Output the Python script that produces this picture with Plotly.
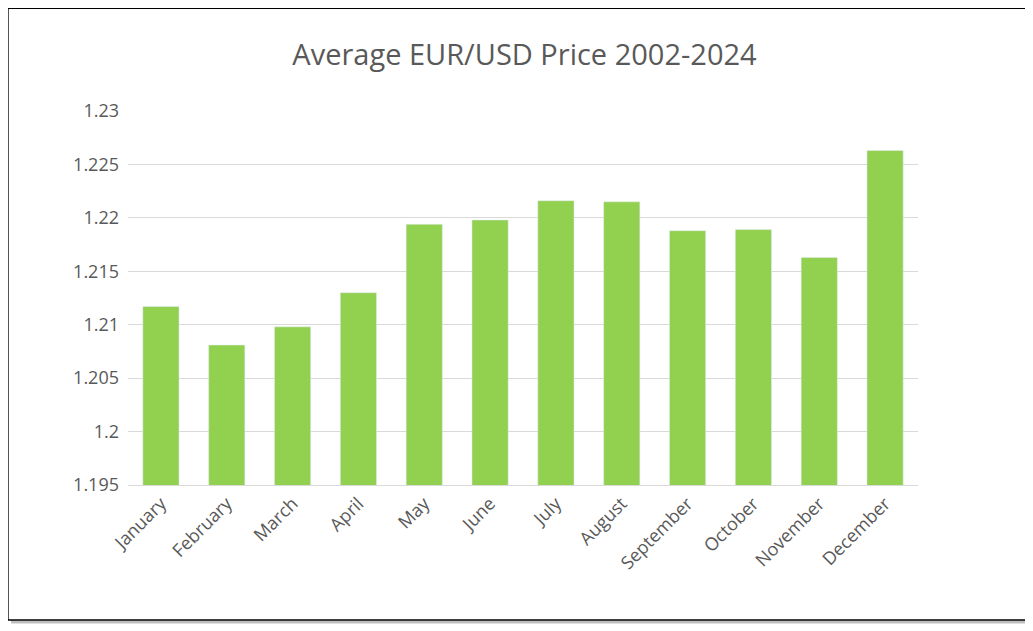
import plotly.graph_objects as go

months = ["January", "February", "March", "April", "May", "June", "July",
          "August", "September", "October", "November", "December"]
avg_price = [1.2117, 1.2081, 1.2098, 1.2130, 1.2194, 1.2198, 1.2216,
             1.2215, 1.2188, 1.2189, 1.2163, 1.2263]
tick_vals = [1.195, 1.2, 1.205, 1.21, 1.215, 1.22, 1.225, 1.23]
tick_text = ["1.195", "1.2", "1.205", "1.21", "1.215", "1.22", "1.225", "1.23"]

fig = go.Figure(go.Bar(x=months, y=avg_price, marker_color="#92D050"))

grey = "#595959"
fig.update_layout(
    width=1033, height=631,
    paper_bgcolor="white", plot_bgcolor="white",
    margin=dict(l=120, r=123, t=103, b=154),
    bargap=0.45,
    showlegend=False,
    font=dict(family="Open Sans", color=grey, size=18),
    title=dict(text="Average EUR/USD Price 2002-2024", x=0.5, xanchor="center",
               y=0.925, yanchor="middle", font=dict(size=29, color=grey)),
)
fig.update_yaxes(range=[1.195, 1.23], tickvals=tick_vals, ticktext=tick_text,
                 gridcolor="#D9D9D9", gridwidth=1, zeroline=False,
                 ticks="", ticklabelstandoff=8)
fig.update_xaxes(tickangle=-45, showline=True, linecolor="#D9D9D9", ticks="")

# outer frame with slight shadow
fig.add_shape(type="rect", xref="paper", yref="paper",
              x0=-0.146, x1=1.144, y0=-0.366, y1=1.27,
              line=dict(color="#BFBFBF", width=3), layer="below")
fig.add_shape(type="rect", xref="paper", yref="paper",
              x0=-0.152, x1=1.138, y0=-0.361, y1=1.275,
              line=dict(color="black", width=1.5), fillcolor="white", layer="below")

fig.write_html("out.html")
